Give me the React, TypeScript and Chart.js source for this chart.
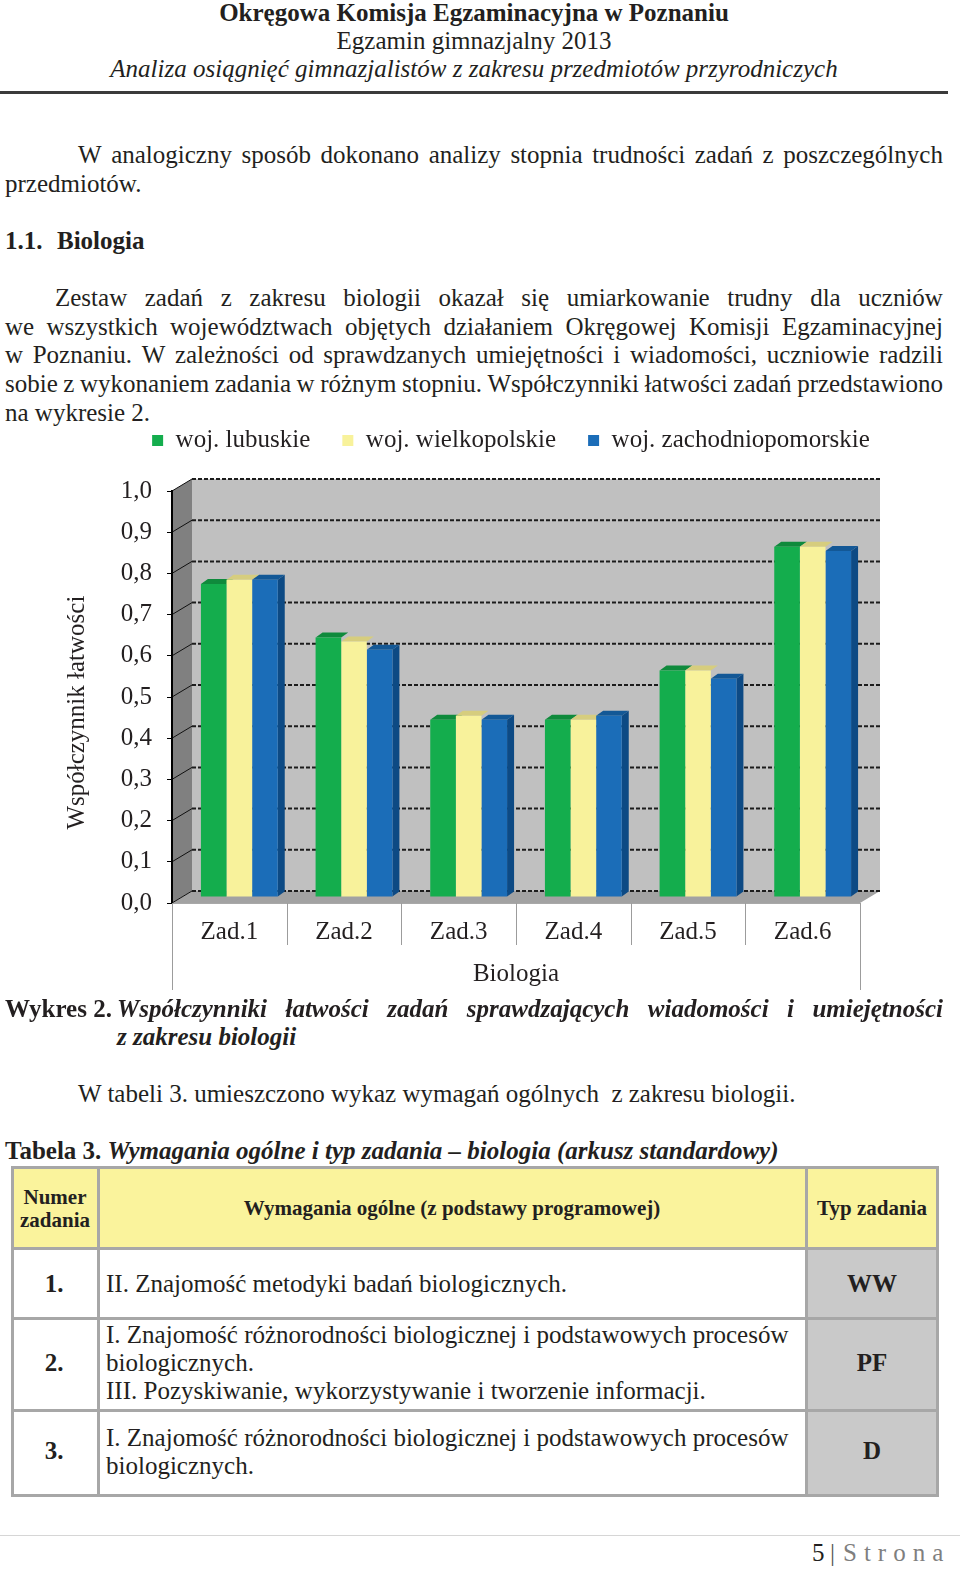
import React, { useEffect, useRef } from 'react';
import { Chart, registerables } from 'chart.js';

Chart.register(...registerables);

// ---------------- DATA ----------------
const categories = ['Zad.1', 'Zad.2', 'Zad.3', 'Zad.4', 'Zad.5', 'Zad.6'];
const seriesNames = ['woj. lubuskie', 'woj. wielkopolskie', 'woj. zachodniopomorskie'];
const lubuskie = [0.76, 0.63, 0.43, 0.43, 0.55, 0.85];
const wielkopolskie = [0.77, 0.62, 0.44, 0.43, 0.55, 0.85];
const zachodniopomorskie = [0.77, 0.60, 0.43, 0.44, 0.53, 0.84];
const yTickLabels = ['0,0', '0,1', '0,2', '0,3', '0,4', '0,5', '0,6', '0,7', '0,8', '0,9', '1,0'];
const yAxisTitle = 'Współczynnik łatwości';
const xGroupLabel = 'Biologia';

// ---------------- STYLE ----------------
const FF = "'Liberation Serif', 'Times New Roman', serif";
const INK = '#231f20';
const FS = 25;
const frontColors = ['#14ad4d', '#f8f29b', '#1b6db8'];
const topColors = ['#0f8a3c', '#d6cd7e', '#135896'];
const sideColors = ['#0b7033', '#bdb46a', '#0d4a84'];
const DX = 20;
const DY = 12;
const BX = 7;
const BY = 5;

function poly(ctx: CanvasRenderingContext2D, pts: number[][], fill: string) {
  ctx.beginPath();
  ctx.moveTo(pts[0][0], pts[0][1]);
  for (let i = 1; i < pts.length; i++) ctx.lineTo(pts[i][0], pts[i][1]);
  ctx.closePath();
  ctx.fillStyle = fill;
  ctx.fill();
}

const pseudo3d = {
  id: 'pseudo3d',
  beforeDraw(chart: any) {
    const { ctx, chartArea } = chart;
    const { left: L, right: R, top: T, bottom: B } = chartArea;
    const ys = chart.scales.y;
    ctx.save();
    ctx.fillStyle = '#c0c0c0';
    ctx.fillRect(L + DX, T - DY, R - L, B - T);
    poly(ctx, [[L, T], [L + DX, T - DY], [L + DX, B - DY], [L, B]], '#808080');
    poly(ctx, [[L, B], [L + DX, B - DY], [R + DX, B - DY], [R, B]], '#a2a2a2');
    ys.ticks.forEach((t: any) => {
      const y = ys.getPixelForValue(t.value);
      ctx.beginPath();
      ctx.setLineDash([4, 2]);
      ctx.lineWidth = 2;
      ctx.strokeStyle = '#1c1c1c';
      ctx.moveTo(L + DX, y - DY);
      ctx.lineTo(R + DX, y - DY);
      ctx.stroke();
      ctx.setLineDash([]);
      ctx.beginPath();
      ctx.lineWidth = 1;
      ctx.strokeStyle = '#111';
      ctx.moveTo(L, y);
      ctx.lineTo(L + DX, y - DY);
      ctx.stroke();
    });
    ctx.restore();
  },
  beforeDatasetsDraw(chart: any) {
    const ctx = chart.ctx;
    ctx.save();
    ctx.translate(DX / 2, -DY / 2);
    const n = chart.data.datasets.length;
    chart.data.datasets.forEach((_ds: any, di: number) => {
      const meta = chart.getDatasetMeta(di);
      meta.data.forEach((el: any) => {
        const { x, y, base, width } = el.getProps(['x', 'y', 'base', 'width'], true);
        const x0 = x - width / 2;
        const x1 = x + width / 2;
        poly(ctx, [[x0, y], [x0 + BX, y - BY], [x1 + BX, y - BY], [x1, y]], topColors[di]);
        if (di === n - 1) {
          poly(ctx, [[x1, y], [x1 + BX, y - BY], [x1 + BX, base - BY], [x1, base]], sideColors[di]);
        }
      });
    });
  },
  afterDatasetsDraw(chart: any) {
    chart.ctx.restore();
  },
  afterDraw(chart: any) {
    const { ctx, chartArea } = chart;
    const B = chartArea.bottom;
    const xs = chart.scales.x;
    const step = xs.getPixelForValue(1) - xs.getPixelForValue(0);
    const first = xs.getPixelForValue(0) - step / 2;
    ctx.save();
    ctx.strokeStyle = '#9c9c9c';
    ctx.lineWidth = 1;
    for (let i = 0; i <= categories.length; i++) {
      const x = Math.round(first + i * step) + 0.5;
      const len = i === 0 || i === categories.length ? 87 : 42;
      ctx.beginPath();
      ctx.moveTo(x, B);
      ctx.lineTo(x, B + len);
      ctx.stroke();
    }
    ctx.restore();
  },
};

function BarChart() {
  const ref = useRef<HTMLCanvasElement | null>(null);
  useEffect(() => {
    if (!ref.current) return;
    const font = { family: FF, size: FS };
    const chart = new Chart(ref.current, {
      type: 'bar',
      data: {
        labels: categories,
        datasets: [lubuskie, wielkopolskie, zachodniopomorskie].map((d, i) => ({
          label: seriesNames[i],
          data: d,
          backgroundColor: frontColors[i],
          borderWidth: 0,
          xAxisID: 'x',
          yAxisID: 'y',
          categoryPercentage: 0.67,
          barPercentage: 1.0,
        })),
      },
      options: {
        animation: false,
        responsive: true,
        maintainAspectRatio: false,
        layout: { padding: { left: 62, right: 0, top: 0, bottom: 0 } },
        plugins: {
          legend: {
            position: 'top',
            labels: { font, color: INK, boxWidth: 11, boxHeight: 11, padding: 32 },
          },
          tooltip: { enabled: false },
        },
        scales: {
          x: {
            type: 'category',
            grid: { display: false, drawTicks: false },
            border: { display: true, color: '#a8a8a8', width: 1 },
            ticks: { font, color: INK, padding: 14, maxRotation: 0, autoSkip: false },
            title: { display: true, text: xGroupLabel, font, color: INK, padding: { top: 0, bottom: 9 } },
            afterFit: (s: any) => { s.height = 95; },
          },
          xTop: {
            type: 'category',
            position: 'top',
            grid: { display: false, drawTicks: false },
            border: { display: false },
            ticks: { display: false },
            afterFit: (s: any) => { s.height = 28; },
          },
          y: {
            type: 'linear',
            min: 0,
            max: 1,
            ticks: {
              stepSize: 0.1,
              font,
              color: INK,
              padding: 15,
              callback: (_v: any, i: number) => yTickLabels[i],
            },
            grid: { display: true, drawOnChartArea: false, drawTicks: true, tickLength: 5, color: '#000', lineWidth: 1 },
            border: { display: true, color: '#000', width: 2 },
            title: { display: true, text: yAxisTitle + '     ', font, color: INK, padding: { top: 0, bottom: 0 } },
            afterFit: (s: any) => { s.width = 110; },
          },
          yRight: {
            type: 'linear',
            position: 'right',
            min: 0,
            max: 1,
            grid: { display: false, drawTicks: false },
            border: { display: false },
            ticks: { display: false },
            afterFit: (s: any) => { s.width = 100; },
          },
        },
      } as any,
      plugins: [pseudo3d as any],
    });
    return () => chart.destroy();
  }, []);
  return (
    <div style={{ position: 'absolute', left: 0, top: 396, width: 960, height: 602 }}>
      <canvas ref={ref} />
    </div>
  );
}

const LH = 28;

function Line({ x, y, children, style }: any) {
  return (
    <div style={{ position: 'absolute', left: x, top: y - LH / 2, height: LH, lineHeight: LH + 'px', whiteSpace: 'pre', ...style }}>
      {children}
    </div>
  );
}

function JLine({ x, right, y, text, style }: any) {
  const words = text.split(' ');
  return (
    <div
      style={{
        position: 'absolute', left: x, width: right - x, top: y - LH / 2, height: LH, lineHeight: LH + 'px',
        display: 'flex', justifyContent: 'space-between', whiteSpace: 'nowrap', ...style,
      }}
    >
      {words.map((w: string, i: number) => <span key={i}>{w}</span>)}
    </div>
  );
}

function Centered({ cx, y, children, style }: any) {
  return (
    <div style={{ position: 'absolute', left: cx - 300, width: 600, top: y - LH / 2, height: LH, lineHeight: LH + 'px', textAlign: 'center', whiteSpace: 'pre', ...style }}>
      {children}
    </div>
  );
}

const tXs = [12, 98, 806, 937];
const tYs = [1167, 1248, 1318, 1410, 1495];
const BORDER = '#a7a7a7';

function Table() {
  const cells: any[] = [];
  cells.push(<div key="hbg" style={{ position: 'absolute', left: tXs[0], top: tYs[0], width: tXs[3] - tXs[0], height: tYs[1] - tYs[0], background: '#faf39c' }} />);
  cells.push(<div key="gbg" style={{ position: 'absolute', left: tXs[2], top: tYs[1], width: tXs[3] - tXs[2], height: tYs[4] - tYs[1], background: '#c9c9c9' }} />);
  tXs.forEach((x, i) => cells.push(<div key={'v' + i} style={{ position: 'absolute', left: x - 1.5, top: tYs[0] - 1.5, width: 3, height: tYs[4] - tYs[0] + 3, background: BORDER }} />));
  tYs.forEach((y, i) => cells.push(<div key={'h' + i} style={{ position: 'absolute', left: tXs[0] - 1.5, top: y - 1.5, width: tXs[3] - tXs[0] + 3, height: 3, background: BORDER }} />));
  const hs = { fontWeight: 'bold', fontSize: 21 };
  const b = { fontWeight: 'bold' };
  return (
    <>
      {cells}
      <Centered cx={55} y={1197} style={hs}>Numer</Centered>
      <Centered cx={55} y={1220} style={hs}>zadania</Centered>
      <Centered cx={452} y={1208} style={hs}>Wymagania ogólne (z podstawy programowej)</Centered>
      <Centered cx={872} y={1208} style={hs}>Typ zadania</Centered>

      <Centered cx={54} y={1284} style={b}>1.</Centered>
      <Line x={106} y={1284}>II. Znajomość metodyki badań biologicznych.</Line>
      <Centered cx={872} y={1284} style={b}>WW</Centered>

      <Centered cx={54} y={1363} style={b}>2.</Centered>
      <Line x={106} y={1335}>I. Znajomość różnorodności biologicznej i podstawowych procesów</Line>
      <Line x={106} y={1363}>biologicznych.</Line>
      <Line x={106} y={1391}>III. Pozyskiwanie, wykorzystywanie i tworzenie informacji.</Line>
      <Centered cx={872} y={1363} style={b}>PF</Centered>

      <Centered cx={54} y={1451} style={b}>3.</Centered>
      <Line x={106} y={1438}>I. Znajomość różnorodności biologicznej i podstawowych procesów</Line>
      <Line x={106} y={1466}>biologicznych.</Line>
      <Centered cx={872} y={1451} style={b}>D</Centered>
    </>
  );
}

export default function App() {
  return (
    <div
      style={{
        position: 'absolute', left: 0, top: 0, width: 960, height: 1588, background: '#fff',
        fontFamily: FF, fontSize: FS, color: INK, overflow: 'hidden',
      }}
    >
      <Centered cx={474} y={13} style={{ fontWeight: 'bold' }}>Okręgowa Komisja Egzaminacyjna w Poznaniu</Centered>
      <Centered cx={474} y={41}>Egzamin gimnazjalny 2013</Centered>
      <div style={{ position: 'absolute', left: 0, width: 948, top: 69 - LH / 2, height: LH, lineHeight: LH + 'px', textAlign: 'center', fontStyle: 'italic' }}>
        Analiza osiągnięć gimnazjalistów z zakresu przedmiotów przyrodniczych
      </div>
      <div style={{ position: 'absolute', left: 0, top: 91, width: 948, height: 3, background: '#3b3b3b' }} />

      <JLine x={78} right={943} y={155} text="W analogiczny sposób dokonano analizy stopnia trudności zadań z poszczególnych" />
      <Line x={5} y={184}>przedmiotów.</Line>

      <Line x={5} y={241} style={{ fontWeight: 'bold' }}>1.1.</Line>
      <Line x={57} y={241} style={{ fontWeight: 'bold' }}>Biologia</Line>

      <JLine x={55} right={943} y={298} text="Zestaw zadań z zakresu biologii okazał się umiarkowanie trudny dla uczniów" />
      <JLine x={5} right={943} y={327} text="we wszystkich województwach objętych działaniem Okręgowej Komisji Egzaminacyjnej" />
      <JLine x={5} right={943} y={355} text="w Poznaniu. W zależności od sprawdzanych umiejętności i wiadomości, uczniowie radzili" />
      <JLine x={5} right={943} y={384} text="sobie z wykonaniem zadania w różnym stopniu. Współczynniki łatwości zadań przedstawiono" />
      <Line x={5} y={413}>na wykresie 2.</Line>

      <BarChart />

      <Line x={5} y={1009} style={{ fontWeight: 'bold' }}>Wykres 2.</Line>
      <JLine x={117} right={943} y={1009} style={{ fontWeight: 'bold', fontStyle: 'italic' }} text="Współczynniki łatwości zadań sprawdzających wiadomości i umiejętności" />
      <Line x={117} y={1037} style={{ fontWeight: 'bold', fontStyle: 'italic' }}>z zakresu biologii</Line>

      <Line x={78} y={1094}>W tabeli 3. umieszczono wykaz wymagań ogólnych  z zakresu biologii.</Line>

      <Line x={5} y={1151} style={{ fontWeight: 'bold' }}>
        Tabela 3. <span style={{ fontStyle: 'italic' }}>Wymagania ogólne i typ zadania – biologia (arkusz standardowy)</span>
      </Line>

      <Table />

      <div style={{ position: 'absolute', left: 0, top: 1535, width: 960, height: 1, background: '#d6d6d6' }} />
      <Line x={812} y={1553}>5</Line>
      <Line x={830} y={1553} style={{ color: '#555' }}>|</Line>
      <Line x={843} y={1553} style={{ color: '#7f7f7f', letterSpacing: '7px' }}>Strona</Line>
    </div>
  );
}
